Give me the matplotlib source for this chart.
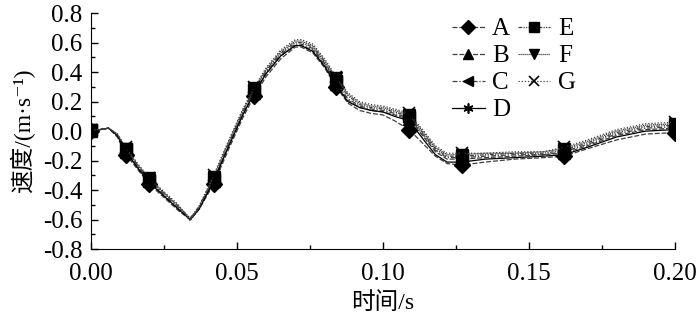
import numpy as np
import matplotlib.pyplot as plt
from matplotlib.ticker import MultipleLocator

plt.rcParams['font.family'] = ['Liberation Serif', 'Noto Sans CJK SC', 'DejaVu Serif']

# tiempo (s)
t = [0.000, 0.003, 0.006, 0.009, 0.012, 0.016, 0.020, 0.025, 0.030, 0.034,
     0.037, 0.042, 0.047, 0.052, 0.056, 0.060, 0.065, 0.070, 0.072, 0.076,
     0.080, 0.084, 0.088, 0.092, 0.096, 0.100, 0.104, 0.109, 0.114, 0.118,
     0.122, 0.127, 0.135, 0.145, 0.155, 0.162, 0.170, 0.180, 0.190, 0.200]

A = [0.00, 0.01, 0.02, -0.04, -0.16, -0.26, -0.36, -0.45, -0.54, -0.60,
     -0.53, -0.36, -0.13, 0.09, 0.24, 0.37, 0.49, 0.57, 0.57, 0.53,
     0.43, 0.30, 0.19, 0.14, 0.12, 0.11, 0.07, 0.01, -0.09, -0.17,
     -0.22, -0.23, -0.21, -0.19, -0.18, -0.17, -0.12, -0.06, -0.02, -0.01]
B = [0.00, 0.01, 0.02, -0.03, -0.14, -0.25, -0.34, -0.44, -0.53, -0.60,
     -0.53, -0.34, -0.11, 0.11, 0.26, 0.39, 0.51, 0.58, 0.58, 0.55,
     0.45, 0.32, 0.21, 0.16, 0.14, 0.13, 0.11, 0.08, -0.04, -0.14,
     -0.19, -0.19, -0.18, -0.17, -0.16, -0.15, -0.10, -0.03, 0.01, 0.02]
C = [0.01, 0.01, 0.02, -0.03, -0.13, -0.24, -0.34, -0.43, -0.52, -0.59,
     -0.52, -0.33, -0.10, 0.12, 0.27, 0.40, 0.52, 0.59, 0.59, 0.56,
     0.46, 0.33, 0.22, 0.17, 0.15, 0.14, 0.12, 0.09, -0.03, -0.13,
     -0.18, -0.18, -0.17, -0.16, -0.16, -0.14, -0.09, -0.02, 0.02, 0.03]
D = [0.00, 0.01, 0.02, -0.03, -0.14, -0.25, -0.35, -0.44, -0.53, -0.60,
     -0.53, -0.34, -0.11, 0.11, 0.26, 0.39, 0.51, 0.58, 0.58, 0.54,
     0.44, 0.31, 0.20, 0.16, 0.14, 0.13, 0.10, 0.07, -0.06, -0.16,
     -0.21, -0.21, -0.19, -0.18, -0.17, -0.16, -0.11, -0.04, 0.00, 0.01]
E = [0.01, 0.01, 0.02, -0.02, -0.12, -0.23, -0.33, -0.42, -0.51, -0.59,
     -0.51, -0.32, -0.09, 0.13, 0.28, 0.41, 0.53, 0.60, 0.60, 0.57,
     0.47, 0.34, 0.24, 0.18, 0.16, 0.15, 0.13, 0.10, -0.02, -0.12,
     -0.17, -0.17, -0.16, -0.15, -0.15, -0.13, -0.08, -0.01, 0.03, 0.04]
F = [0.01, 0.01, 0.02, -0.02, -0.12, -0.23, -0.32, -0.42, -0.51, -0.60,
     -0.52, -0.31, -0.08, 0.14, 0.29, 0.42, 0.54, 0.61, 0.61, 0.58,
     0.48, 0.36, 0.25, 0.19, 0.17, 0.16, 0.14, 0.11, -0.01, -0.11,
     -0.16, -0.16, -0.15, -0.15, -0.14, -0.12, -0.07, 0.00, 0.04, 0.05]
G = [0.01, 0.01, 0.02, -0.02, -0.11, -0.22, -0.32, -0.41, -0.50, -0.61,
     -0.51, -0.30, -0.07, 0.15, 0.30, 0.43, 0.55, 0.62, 0.62, 0.59,
     0.49, 0.37, 0.26, 0.20, 0.18, 0.17, 0.15, 0.12, 0.00, -0.10,
     -0.15, -0.15, -0.15, -0.14, -0.14, -0.11, -0.06, 0.01, 0.05, 0.06]

series = {'A': A, 'B': B, 'C': C, 'D': D, 'E': E, 'F': F, 'G': G}
markers = {'A': 'D', 'B': '^', 'C': '<', 'D': (6, 2, 0), 'E': 's', 'F': 'v', 'G': 'x'}
estilos = {'A': (0, (4, 1.5)), 'B': (0, (4, 1.5)), 'C': (0, (4, 1.5, 1, 1.5)),
           'D': '-', 'E': (0, (3, 1, 1, 1, 1, 1)), 'F': (0, (1, 0.6)), 'G': (0, (1, 1.5))}
idx_marcas = [0, 4, 6, 11, 14, 21, 27, 31, 35, 39]

fig = plt.figure(figsize=(7, 3.19), dpi=100)
ax = fig.add_axes([0.13, 0.219, 0.834, 0.74])

for nombre, vals in series.items():
    m = markers[nombre]
    ax.plot(t, vals, linestyle=estilos[nombre], color='0.25' if nombre != 'D' else 'black',
            linewidth=0.9, marker=m, markevery=idx_marcas, markersize=8,
            markerfacecolor='black', markeredgecolor='black',
            markeredgewidth=1.0 if m not in ('x', (6, 2, 0)) else 1.2,
            label=nombre)

ax.set_xlim(0, 0.2)
ax.set_ylim(-0.8, 0.8)
ax.set_xticks([0, 0.05, 0.1, 0.15, 0.2])
ax.set_xticklabels(['0.00', '0.05', '0.10', '0.15', '0.20'])
ax.xaxis.set_minor_locator(MultipleLocator(0.025))
yt = [-0.8, -0.6, -0.4, -0.2, 0.0, 0.2, 0.4, 0.6, 0.8]
ax.set_yticks(yt)
ax.set_yticklabels(['%.1f' % v for v in yt])
ax.yaxis.set_minor_locator(MultipleLocator(0.1))

ax.spines['top'].set_visible(False)
ax.spines['right'].set_visible(False)
ax.tick_params(direction='in', which='major', length=5, width=1, labelsize=18)
ax.tick_params(direction='in', which='minor', length=3, width=1)
ax.tick_params(axis='x', pad=10)
ax.tick_params(axis='y', pad=6)

ax.set_xlabel('时间/s', fontsize=17, labelpad=5)
ax.set_ylabel('速度/(m·s⁻¹)', fontsize=17, labelpad=6)

handles, labels = ax.get_legend_handles_labels()
ax.legend(handles, labels, ncol=2, loc='upper left', bbox_to_anchor=(0.58, 1.075),
          frameon=False, fontsize=18, handlelength=1.3, handletextpad=0.3,
          columnspacing=0.3, labelspacing=0.18, markerscale=0.9)

fig.savefig('out.png', dpi=100)
